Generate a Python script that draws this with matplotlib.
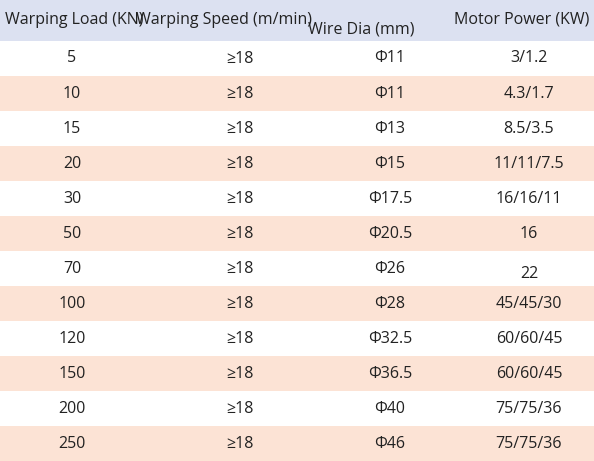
import matplotlib.pyplot as plt
from matplotlib.patches import Rectangle

headers = ["Warping Load (KN)", "Warping Speed (m/min)", "Wire Dia (mm)", "Motor Power (KW)"]
loads = ["5", "10", "15", "20", "30", "50", "70", "100", "120", "150", "200", "250"]
speeds = ["≥18"] * 12
wire_dia = ["Φ11", "Φ11", "Φ13", "Φ15", "Φ17.5", "Φ20.5", "Φ26", "Φ28", "Φ32.5", "Φ36.5", "Φ40", "Φ46"]
motor_power = ["3/1.2", "4.3/1.7", "8.5/3.5", "11/11/7.5", "16/16/11", "16", "22",
               "45/45/30", "60/60/45", "60/60/45", "75/75/36", "75/75/36"]

W, H = 594, 461
HEAD_H = 41
ROW_H = (H - HEAD_H) / 12
col_x = [72, 240, 390, 529]
head_x = [74, 224, 361, 522]
head_y = [20, 20, 30, 20]

fig = plt.figure(figsize=(W / 100, H / 100), dpi=100)
ax = fig.add_axes([0, 0, 1, 1])
ax.set_xlim(0, W)
ax.set_ylim(H, 0)
ax.axis("off")

ax.add_patch(Rectangle((0, 0), W, HEAD_H, color="#dce1f1", lw=0))
for i, h in enumerate(headers):
    ax.text(head_x[i], head_y[i], h, ha="center", va="center", fontsize=11.5,
            color="#222222", family="Open Sans")

cols = [loads, speeds, wire_dia, motor_power]
for r in range(12):
    y0 = HEAD_H + r * ROW_H
    if r % 2 == 1:
        ax.add_patch(Rectangle((0, y0), W, ROW_H, color="#fce3d5", lw=0))
    for c in range(4):
        dy = 5 if (c == 3 and r == 6) else 0
        ax.text(col_x[c], y0 + ROW_H / 2 + dy, cols[c][r], ha="center", va="center",
                fontsize=11.5, color="#222222", family="Open Sans")

fig.savefig("out.png", dpi=100)
